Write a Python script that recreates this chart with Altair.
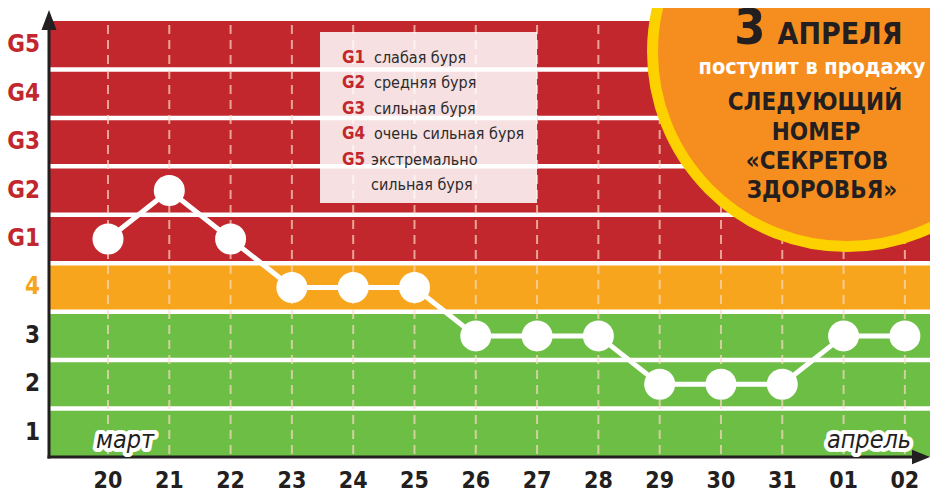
import altair as alt
import pandas as pd

# ---- data ----
days = ["20", "21", "22", "23", "24", "25", "26", "27", "28", "29", "30", "31", "01", "02"]
readings = ["G1", "G2", "G1", "4", "4", "4", "3", "3", "3", "2", "2", "2", "3", "3"]
levels = ["1", "2", "3", "4", "G1", "G2", "G3", "G4", "G5"]
level_colors = ["#6dbe45", "#6dbe45", "#6dbe45", "#f6a51c",
                "#c1272d", "#c1272d", "#c1272d", "#c1272d", "#c1272d"]
legend_codes = ["G1", "G2", "G3", "G4", "G5", ""]
legend_texts = ["слабая буря", "средняя буря", "сильная буря",
                "очень сильная буря", "экстремально", "сильная буря"]
months = ["март", "апрель"]
badge_lines = ["3", "АПРЕЛЯ", "поступит в продажу", "СЛЕДУЮЩИЙ",
               "НОМЕР", "«СЕКРЕТОВ", "ЗДОРОВЬЯ»"]

FONT = "'DejaVu Sans Condensed', 'Liberation Sans Narrow', 'Open Sans', sans-serif"
DARK = "#231f20"
RED = "#c1272d"
ORANGE = "#f6a51c"

W, H = 881, 436

series = pd.DataFrame({
    "idx": list(range(len(days))),
    "day": days,
    "lev": [levels.index(r) + 1 for r in readings],
})
bands = pd.DataFrame({
    "lev": list(range(1, len(levels) + 1)),
    "label": levels,
    "col": level_colors,
})
legend_df = pd.DataFrame({"code": legend_codes, "txt": legend_texts,
                          "row": list(range(len(legend_texts)))})

xs = alt.Scale(domain=[-0.9625, 13.41], nice=False, zero=False)
ys = alt.Scale(domain=[0.5, 9.5], nice=False, zero=False)

band_layer = alt.Chart(bands).mark_rect().transform_calculate(
    lo="datum.lev - 0.5", hi="datum.lev + 0.5"
).encode(
    x=alt.value(0), x2=alt.value(W),
    y=alt.Y("lo:Q", scale=ys, axis=None), y2="hi:Q",
    color=alt.Color("col:N", scale=None),
)
sep_layer = alt.Chart(bands).mark_rule(color="white", strokeWidth=4.5).transform_filter(
    "datum.lev < 9"
).transform_calculate(b="datum.lev + 0.5").encode(
    x=alt.value(0), x2=alt.value(W),
    y=alt.Y("b:Q", scale=ys, axis=None),
)
ylab_layer = alt.Chart(bands).mark_text(
    font=FONT, fontSize=24, fontWeight="bold", align="right", baseline="middle"
).transform_calculate(
    lc=f"datum.lev >= 5 ? '{RED}' : (datum.lev == 4 ? '{ORANGE}' : '{DARK}')"
).encode(
    x=alt.value(-9),
    y=alt.Y("lev:Q", scale=ys, axis=None),
    text="label:N",
    color=alt.Color("lc:N", scale=None),
)
dash_layer = alt.Chart(series).mark_rule(color="#fbd8c4", opacity=0.7, strokeWidth=2,
                                         strokeDash=[9, 6]).encode(
    x=alt.X("idx:Q", scale=xs, axis=None),
    y=alt.value(4), y2=alt.value(H),
)
xlab_layer = alt.Chart(series).mark_text(
    font=FONT, fontSize=23, fontWeight="bold", color=DARK, align="center", baseline="middle"
).encode(
    x=alt.X("idx:Q", scale=xs, axis=None),
    y=alt.value(H + 24),
    text="day:N",
)
box_layer = alt.Chart(legend_df.head(1)).mark_rect(color="white", opacity=0.86).encode(
    x=alt.value(271), x2=alt.value(488), y=alt.value(11), y2=alt.value(182),
)
code_layer = alt.Chart(legend_df).mark_text(
    font=FONT, fontSize=17, fontWeight="bold", color=RED, align="left", baseline="middle"
).transform_calculate(py="37 + 25.4 * datum.row").encode(
    x=alt.value(293), y=alt.Y("py:Q", scale=None, axis=None), text="code:N",
)
txt_layer = alt.Chart(legend_df).mark_text(
    font=FONT, fontSize=16, color="#2b2b2b", align="left", baseline="middle"
).transform_calculate(py="37 + 25.4 * datum.row",
                      px="datum.row >= 4 ? 322 : 325").encode(
    x=alt.X("px:Q", scale=None, axis=None), y=alt.Y("py:Q", scale=None, axis=None),
    text="txt:N",
)
line_layer = alt.Chart(series).mark_line(color="white", strokeWidth=5).encode(
    x=alt.X("idx:Q", scale=xs, axis=None),
    y=alt.Y("lev:Q", scale=ys, axis=None),
)
point_layer = alt.Chart(series).mark_point(
    filled=True, color="white", opacity=1, size=961, shape="circle"
).encode(
    x=alt.X("idx:Q", scale=xs, axis=None),
    y=alt.Y("lev:Q", scale=ys, axis=None),
)

one = series.head(1)

badge = alt.Chart(one).mark_point(
    shape="circle", filled=True, fill="#f68d1f", stroke="#fdd000", strokeWidth=11,
    opacity=1, size=389 * 389,
).encode(x=alt.value(798), y=alt.value(31))


def btxt(text, x, y, size, color=DARK):
    return alt.Chart(one).mark_text(
        text=text, font=FONT, fontSize=size, fontWeight="bold", color=color,
        align="center", baseline="middle",
    ).encode(x=alt.value(x), y=alt.value(y))


badge_text = [
    btxt(badge_lines[0], 701, 8, 50),
    btxt(badge_lines[1], 791, 14, 30),
    btxt(badge_lines[2], 763, 47, 21.5, "white"),
    btxt(badge_lines[3], 766, 82, 24),
    btxt(badge_lines[4], 767, 112, 24),
    btxt(badge_lines[5], 768, 141, 24),
    btxt(badge_lines[6], 773, 170, 24),
]

yline = alt.Chart(one).mark_rule(color=DARK, strokeWidth=3).encode(
    x=alt.value(0), y=alt.value(H + 1.5), y2=alt.value(-2))
xline = alt.Chart(one).mark_rule(color=DARK, strokeWidth=3).encode(
    x=alt.value(-1.5), x2=alt.value(W - 10), y=alt.value(H))
yarrow = alt.Chart(one).mark_point(
    shape="M0,-1L0.75,1L-0.75,1Z", filled=True, color=DARK, opacity=1, size=400
).encode(x=alt.value(0), y=alt.value(-1))
xarrow = alt.Chart(one).mark_point(
    shape="M1,0L-1,-0.8L-1,0.8Z", filled=True, color=DARK, opacity=1, size=324
).encode(x=alt.value(W - 9), y=alt.value(H))


def month(text, x):
    halo = alt.Chart(one).mark_text(
        text=text, font=FONT, fontSize=25, fontStyle="italic", color="white",
        stroke="white", strokeWidth=8, strokeJoin="round",
        align="center", baseline="middle",
    ).encode(x=alt.value(x), y=alt.value(419))
    fg = alt.Chart(one).mark_text(
        text=text, font=FONT, fontSize=25, fontStyle="italic", color=DARK,
        align="center", baseline="middle",
    ).encode(x=alt.value(x), y=alt.value(419))
    return [halo, fg]


layers = [band_layer, sep_layer, dash_layer, box_layer, code_layer, txt_layer,
          line_layer, point_layer, badge] + badge_text + \
         [yline, xline, yarrow, xarrow, ylab_layer, xlab_layer] + \
         month(months[0], 76) + month(months[1], 820)

chart = alt.layer(*layers).properties(
    width=W, height=H,
    autosize=alt.AutoSizeParams(type="none"),
    padding={"left": 41, "top": 13, "right": 0, "bottom": 37},
    background="white",
).configure_view(stroke=None)

chart.save("out.html", embed_options={"renderer": "svg", "actions": False})
